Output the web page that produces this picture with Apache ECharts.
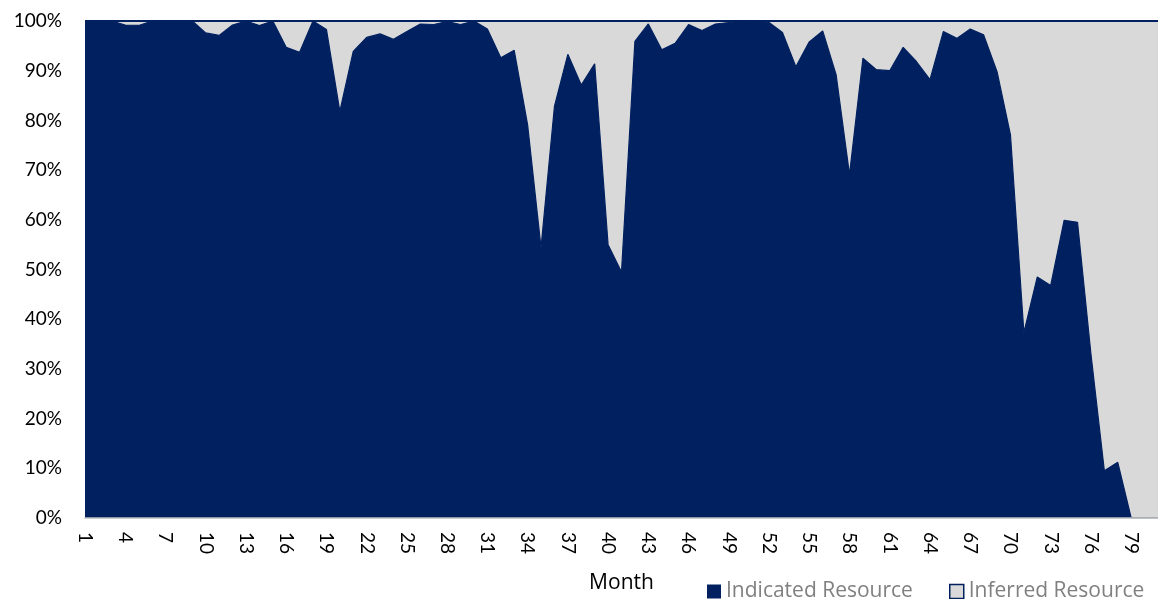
<!DOCTYPE html>
<html>
<head>
<meta charset="utf-8">
<script src="https://cdn.jsdelivr.net/npm/echarts@6/dist/echarts.min.js"></script>
<style>
html,body{margin:0;padding:0;background:#fff;}
#chart{width:1158px;height:599px;}
</style>
</head>
<body>
<div id="chart"></div>
<script>
const months = ['1','2','3','4','5','6','7','8','9','10','11','12','13','14','15','16','17','18','19','20',
  '21','22','23','24','25','26','27','28','29','30','31','32','33','34','35','36','37','38','39','40',
  '41','42','43','44','45','46','47','48','49','50','51','52','53','54','55','56','57','58','59','60',
  '61','62','63','64','65','66','67','68','69','70','71','72','73','74','75','76','77','78','79','80','81'];

const indicated = [100,100,100,99.2,99.1,100,100,100,100,97.6,
  97.1,99.2,100,99.1,100,94.7,93.7,100,98.3,81.8,
  93.9,96.7,97.4,96.3,97.9,99.4,99.3,99.9,99.3,100,
  98.4,92.6,94.1,79.1,54.4,82.8,93.3,87.1,91.4,55.0,
  49.5,95.9,99.4,94.2,95.5,99.3,98.1,99.4,99.7,100,
  100,99.7,97.7,90.8,95.8,98.0,89.2,69.1,92.5,90.2,
  90.0,94.7,91.8,88.2,97.9,96.5,98.4,97.2,89.8,77.1,
  37.3,48.5,46.8,59.9,59.5,33.0,9.5,11.2,0,0,0];

const inferred = [0,0,0,0.8,0.9,0,0,0,0,2.4,
  2.9,0.8,0,0.9,0,5.3,6.3,0,1.7,18.2,
  6.1,3.3,2.6,3.7,2.1,0.6,0.7,0.1,0.7,0,
  1.6,7.4,5.9,20.9,45.6,17.2,6.7,12.9,8.6,45.0,
  50.5,4.1,0.6,5.8,4.5,0.7,1.9,0.6,0.3,0,
  0,0.3,2.3,9.2,4.2,2.0,10.8,30.9,7.5,9.8,
  10.0,5.3,8.2,11.8,2.1,3.5,1.6,2.8,10.2,22.9,
  62.7,51.5,53.2,40.1,40.5,67.0,90.5,88.8,100,100,100];

const yTicks = [0,10,20,30,40,50,60,70,80,90,100];

const NAVY = '#00205F';
const GRAY = '#D9D9D9';
const FONT = 'Lato';
const FONT2 = 'Open Sans';

const chart = echarts.init(document.getElementById('chart'), null, {renderer:'canvas'});
chart.setOption({
  animation: false,
  backgroundColor: '#fff',
  grid: {left: 85, right: -4, top: 21, bottom: 80},
  legend: [
    {left: 707, top: 581, padding: 0, itemWidth: 14, itemHeight: 14, itemGap: 0,
     textStyle: {fontFamily: FONT2, fontSize: 21, color: '#808080'},
     data: [{name: 'Indicated Resource', icon: 'rect', itemStyle: {color: NAVY, borderWidth: 0}}]},
    {left: 949, top: 581, padding: 0, itemWidth: 14, itemHeight: 14, itemGap: 0,
     textStyle: {fontFamily: FONT2, fontSize: 21, color: '#808080'},
     data: [{name: 'Inferred Resource', icon: 'rect', itemStyle: {color: GRAY, borderColor: NAVY, borderWidth: 1.5}}]}
  ],
  xAxis: {
    type: 'category',
    data: months,
    boundaryGap: false,
    name: 'Month',
    nameLocation: 'middle',
    nameGap: 55,
    nameTextStyle: {fontFamily: FONT2, fontSize: 21, color: '#000'},
    axisLine: {show: true, lineStyle: {color: '#BFBFBF', width: 1.5}},
    axisTick: {show: false},
    axisLabel: {interval: 2, rotate: -90, margin: 14, fontFamily: FONT, fontSize: 19, color: '#000'},
    splitLine: {show: false},
    z: 10
  },
  yAxis: {
    type: 'value',
    min: 0, max: 100, interval: 10,
    axisLine: {show: false},
    axisTick: {show: false},
    splitLine: {show: false},
    axisLabel: {margin: 23, fontFamily: FONT, fontSize: 19, color: '#000',
      formatter: function(v){ return yTicks.indexOf(v) >= 0 ? v + '%' : ''; }}
  },
  series: [
    {name: 'Indicated Resource', type: 'line', stack: 'total', data: indicated,
     symbol: 'none', itemStyle: {color: NAVY},
     lineStyle: {color: NAVY, width: 1.2}, areaStyle: {color: NAVY, opacity: 1}, z: 2},
    {name: 'Inferred Resource', type: 'line', stack: 'total', data: inferred,
     symbol: 'none', itemStyle: {color: GRAY},
     lineStyle: {color: NAVY, width: 2}, areaStyle: {color: GRAY, opacity: 1}, z: 1}
  ]
});
</script>
</body>
</html>
